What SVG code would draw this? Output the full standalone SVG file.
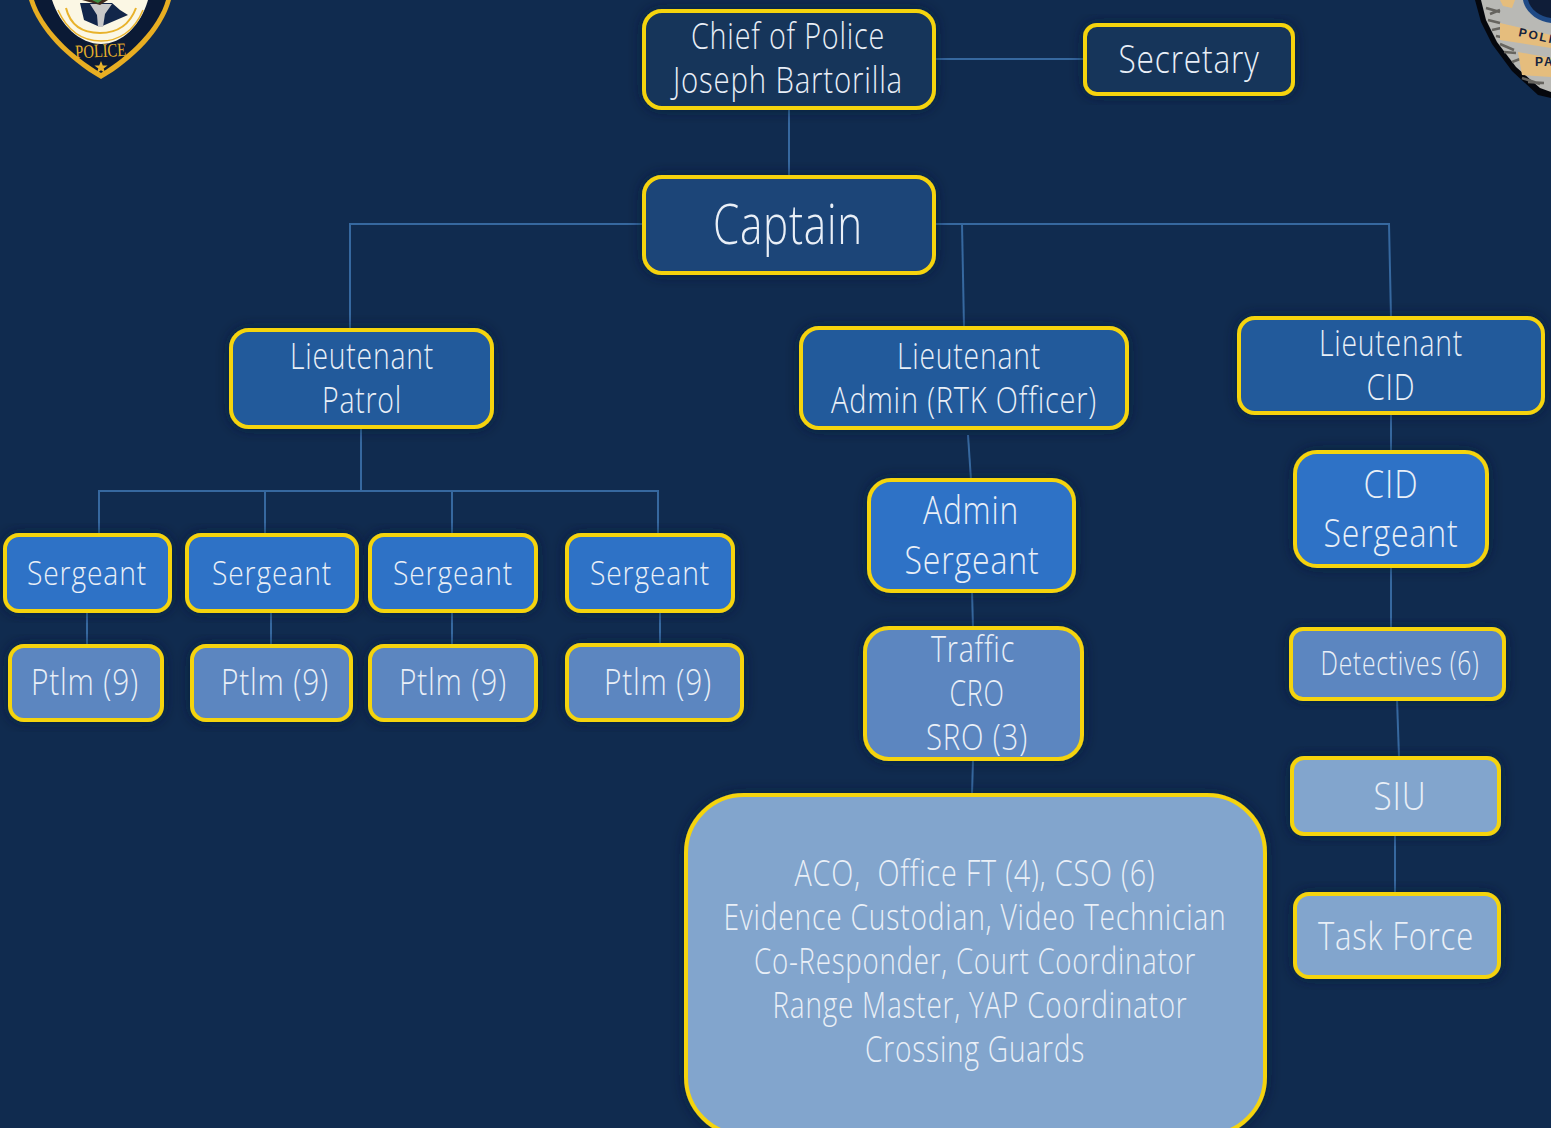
<svg xmlns="http://www.w3.org/2000/svg" width="1551" height="1128" viewBox="0 0 1551 1128">
<style>
text{font-family:"Open Sans","Noto Sans",sans-serif;font-weight:300;fill:#e9eff7;text-anchor:middle;font-size:36px;letter-spacing:1px}
.n{stroke:#f5d40e;stroke-width:4;filter:url(#sh)}
.c{fill:none;stroke:#36689f;stroke-width:2}
.c0{fill:#16365a}.c1{fill:#1c4478}.c2{fill:#235a9b}.c3{fill:#2e72c6}.c4{fill:#5b86c0}.c5{fill:#82a5cd}
.s{font-size:33px}.l{font-size:55px}.b{font-size:38px}
.lg{font-family:"Liberation Serif",serif;font-weight:400;fill:#e8b22b;font-size:19px;letter-spacing:0}
.bd{font-family:"Liberation Sans",sans-serif;font-weight:700;fill:#14233f;font-size:12px;letter-spacing:2px;text-anchor:start}
</style>
<defs>
<filter id="sh" x="-15%" y="-15%" width="130%" height="130%"><feDropShadow dx="0" dy="0" stdDeviation="7" flood-color="#0a1a30" flood-opacity=".7"/></filter>
</defs>
<rect width="1551" height="1128" fill="#102b4f"/>
<g id="logo-left">
<path d="M29 0C38 30 68 60 101 79C134 60 163 30 171 0Z" fill="#e8ae22"/>
<path d="M34 0C43 28 71 55 101 73C130 55 158 28 166 0Z" fill="#0b1a35"/>
<path d="M52 0C60 25 80 44 101 44C122 44 141 25 148 0Z" fill="#fbf7e4"/>
<path d="M80 3L112 3L120 10L128 15L100 27L84 20Z" fill="#12264a"/>
<path d="M90 4H112L105 14L103 27H98L97 15Z" fill="#c8c8c8"/>
<path d="M82 0H108L100 5Z" fill="#3f2a1c"/><path d="M92 0H102L98 3Z" fill="#3c8f45"/>
<path d="M66 8C70 24 80 33 100 33C118 33 130 24 136 8" fill="none" stroke="#e8b22b" stroke-width="2"/>
<path d="M58 10C68 32 84 41 101 41C118 41 134 32 143 10" fill="none" stroke="#e8b22b" stroke-width="1.500"/>
<text class="lg" x="101" y="57" transform="rotate(-3 101 57)" textLength="51" lengthAdjust="spacingAndGlyphs">POLICE</text>
<path d="M101 61l1.800 4.500h4.800l-3.900 2.900 1.500 4.800-4.200-3-4.200 3 1.500-4.800-3.900-2.900h4.800z" fill="#e8b22b"/>
</g>
<g id="logo-right">
<path d="M1475 0L1481 22L1492 44L1512 71L1538 95L1551 98V0Z" fill="#05070d"/>
<path d="M1481 0L1486 20L1497 42L1516 67L1540 88L1551 92V0Z" fill="#b9b9b5"/>
<path d="M1486 8l14 4M1488 20l12 3M1492 30l9-2M1500 44l14 6M1504 52l12 1M1512 62l8-3M1522 78l18 6M1528 82l16 1M1490 14l10-4M1496 36l10 2" stroke="#66645f" stroke-width="2.500" fill="none"/>
<path d="M1500 23L1551 35V48L1500 40Z" fill="#e5bd7d"/>
<path d="M1518 52L1551 58V77L1522 75Z" fill="#e5bd7d"/>
<path d="M1523 0C1525 12 1538 22 1551 23V0Z" fill="#1f4a86"/>
<path d="M1528 0C1530 9 1540 17 1551 18V0Z" fill="#0f1d38"/>
<path d="M1500 0H1515L1512 8L1503 6Z" fill="#e5bd7d"/>
<text class="bd" x="1518" y="36" transform="rotate(12 1518 36)">POLI</text>
<text class="bd" x="1535" y="66">PA</text>
</g>
<g id="connectors">
<path class="c" d="M935 59H1085"/>
<path class="c" d="M789 108V176"/>
<path class="c" d="M643 224H350V329"/>
<path class="c" d="M935 224H1389L1391 317"/>
<path class="c" d="M962 224L964 327"/>
<path class="c" d="M361 427V491"/>
<path class="c" d="M99 534V491H658V534"/>
<path class="c" d="M265 491V534"/>
<path class="c" d="M452 491V534"/>
<path class="c" d="M87 612V645"/>
<path class="c" d="M271 612V645"/>
<path class="c" d="M452 612V645"/>
<path class="c" d="M660 612V644"/>
<path class="c" d="M968 435L971 480"/>
<path class="c" d="M972 591L973 628"/>
<path class="c" d="M973 760L972 794"/>
<path class="c" d="M1391 413V451"/>
<path class="c" d="M1391 566V628"/>
<path class="c" d="M1397 699L1399 757"/>
<path class="c" d="M1395 834V893"/>
</g>
<g id="chief"><rect class="n c0" x="644" y="11" width="290" height="97" rx="18"/><text x="788" y="49" textLength="194" lengthAdjust="spacingAndGlyphs">Chief of Police</text><text x="788" y="93" textLength="230" lengthAdjust="spacingAndGlyphs">Joseph Bartorilla</text></g>
<g id="secretary"><rect class="n c0" x="1085" y="25" width="208" height="69" rx="12"/><text class="b" x="1189" y="73" textLength="141" lengthAdjust="spacingAndGlyphs">Secretary</text></g>
<g id="captain"><rect class="n c1" x="644" y="177" width="290" height="96" rx="18"/><text class="l" x="788" y="244" textLength="150" lengthAdjust="spacingAndGlyphs">Captain</text></g>
<g id="lt-patrol"><rect class="n c2" x="231" y="330" width="261" height="97" rx="18"/><text x="362" y="369" textLength="144" lengthAdjust="spacingAndGlyphs">Lieutenant</text><text x="362" y="413" textLength="80" lengthAdjust="spacingAndGlyphs">Patrol</text></g>
<g id="lt-admin"><rect class="n c2" x="801" y="328" width="326" height="100" rx="18"/><text x="969" y="369" textLength="144" lengthAdjust="spacingAndGlyphs">Lieutenant</text><text x="964" y="413" textLength="266" lengthAdjust="spacingAndGlyphs">Admin (RTK Officer)</text></g>
<g id="lt-cid"><rect class="n c2" x="1239" y="318" width="304" height="95" rx="16"/><text x="1391" y="356" textLength="144" lengthAdjust="spacingAndGlyphs">Lieutenant</text><text x="1391" y="400" textLength="49" lengthAdjust="spacingAndGlyphs">CID</text></g>
<g id="sgt-1"><rect class="n c3" x="5" y="535" width="165" height="76" rx="14"/><text class="s" x="87" y="585" textLength="120" lengthAdjust="spacingAndGlyphs">Sergeant</text></g>
<g id="sgt-2"><rect class="n c3" x="187" y="535" width="170" height="76" rx="14"/><text class="s" x="272" y="585" textLength="120" lengthAdjust="spacingAndGlyphs">Sergeant</text></g>
<g id="sgt-3"><rect class="n c3" x="370" y="535" width="166" height="76" rx="14"/><text class="s" x="453" y="585" textLength="120" lengthAdjust="spacingAndGlyphs">Sergeant</text></g>
<g id="sgt-4"><rect class="n c3" x="567" y="535" width="166" height="76" rx="14"/><text class="s" x="650" y="585" textLength="120" lengthAdjust="spacingAndGlyphs">Sergeant</text></g>
<g id="ptlm-1"><rect class="n c4" x="10" y="646" width="152" height="74" rx="14"/><text x="85" y="695" textLength="108" lengthAdjust="spacingAndGlyphs">Ptlm (9)</text></g>
<g id="ptlm-2"><rect class="n c4" x="192" y="646" width="159" height="74" rx="14"/><text x="275" y="695" textLength="108" lengthAdjust="spacingAndGlyphs">Ptlm (9)</text></g>
<g id="ptlm-3"><rect class="n c4" x="370" y="646" width="166" height="74" rx="14"/><text x="453" y="695" textLength="108" lengthAdjust="spacingAndGlyphs">Ptlm (9)</text></g>
<g id="ptlm-4"><rect class="n c4" x="567" y="645" width="175" height="75" rx="14"/><text x="658" y="695" textLength="108" lengthAdjust="spacingAndGlyphs">Ptlm (9)</text></g>
<g id="admin-sgt"><rect class="n c3" x="869" y="480" width="205" height="111" rx="22"/><text class="b" x="971" y="524" textLength="96" lengthAdjust="spacingAndGlyphs">Admin</text><text class="b" x="972" y="574" textLength="135" lengthAdjust="spacingAndGlyphs">Sergeant</text></g>
<g id="traffic"><rect class="n c4" x="865" y="628" width="217" height="131" rx="24"/><text x="973" y="662" textLength="84" lengthAdjust="spacingAndGlyphs">Traffic</text><text x="977" y="706" textLength="55" lengthAdjust="spacingAndGlyphs">CRO</text><text x="977" y="750" textLength="102" lengthAdjust="spacingAndGlyphs">SRO (3)</text></g>
<g id="cid-sgt"><rect class="n c3" x="1295" y="452" width="192" height="114" rx="22"/><text class="b" x="1391" y="498" textLength="55" lengthAdjust="spacingAndGlyphs">CID</text><text class="b" x="1391" y="547" textLength="135" lengthAdjust="spacingAndGlyphs">Sergeant</text></g>
<g id="detectives"><rect class="n c4" x="1291" y="629" width="213" height="70" rx="12"/><text class="s" x="1400" y="675" textLength="159" lengthAdjust="spacingAndGlyphs">Detectives (6)</text></g>
<g id="siu"><rect class="n c5" x="1292" y="758" width="207" height="76" rx="12"/><text class="b" x="1400" y="810" textLength="53" lengthAdjust="spacingAndGlyphs">SIU</text></g>
<g id="task-force"><rect class="n c5" x="1295" y="894" width="204" height="83" rx="14"/><text class="b" x="1396" y="950" textLength="156" lengthAdjust="spacingAndGlyphs">Task Force</text></g>
<g id="civilian"><rect class="n c5" x="686" y="795" width="579" height="340" rx="58"/>
<text x="975" y="886" textLength="361" lengthAdjust="spacingAndGlyphs" xml:space="preserve">ACO,  Office FT (4), CSO (6)</text>
<text x="975" y="930" textLength="503" lengthAdjust="spacingAndGlyphs">Evidence Custodian, Video Technician</text>
<text x="975" y="974" textLength="442" lengthAdjust="spacingAndGlyphs">Co-Responder, Court Coordinator</text>
<text x="980" y="1018" textLength="415" lengthAdjust="spacingAndGlyphs">Range Master, YAP Coordinator</text>
<text x="975" y="1062" textLength="220" lengthAdjust="spacingAndGlyphs">Crossing Guards</text></g>
</svg>
